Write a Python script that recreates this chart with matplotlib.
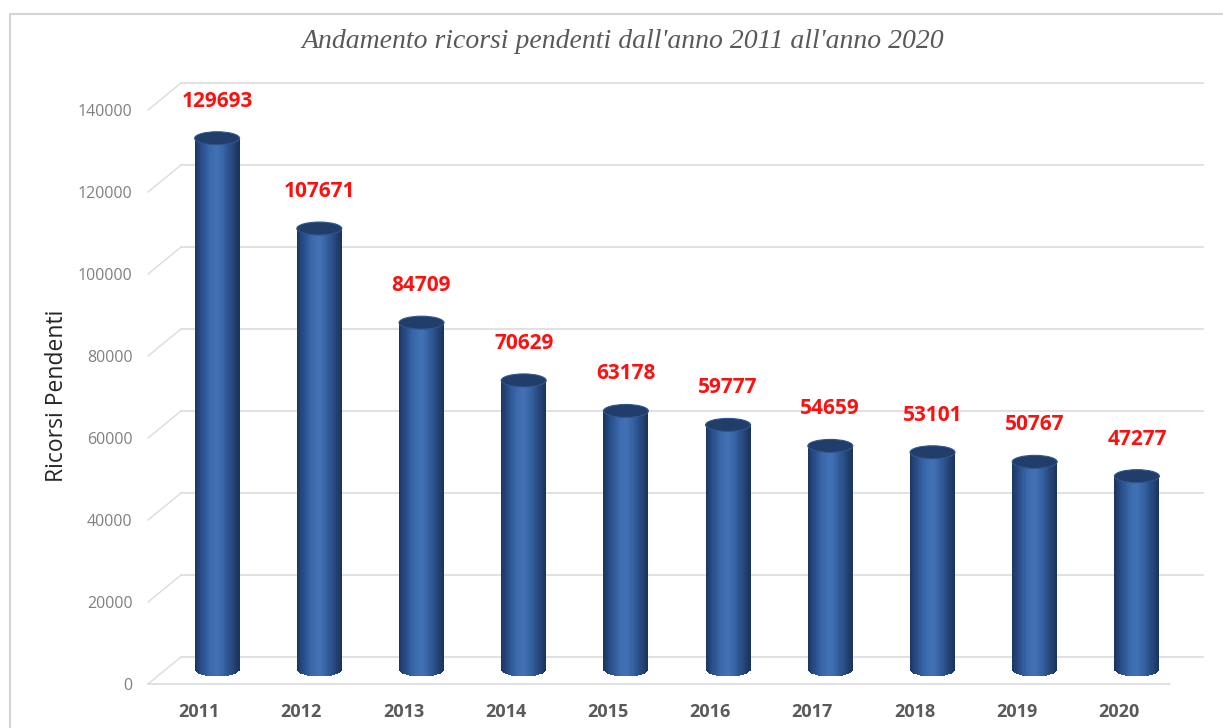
import numpy as np
import matplotlib
matplotlib.use("Agg")
import matplotlib.pyplot as plt
from matplotlib.patches import Ellipse, Rectangle
from matplotlib.transforms import ScaledTranslation
from matplotlib.colors import LinearSegmentedColormap

# dati
anni = ["2011", "2012", "2013", "2014", "2015", "2016", "2017", "2018", "2019", "2020"]
ricorsi = [129693, 107671, 84709, 70629, 63178, 59777, 54659, 53101, 50767, 47277]
yticks = [0, 20000, 40000, 60000, 80000, 100000, 120000, 140000]

W, H, DPI = 1223, 728, 100
fig = plt.figure(figsize=(W / DPI, H / DPI), dpi=DPI)
fig.patch.set_facecolor("white")

# piano frontale: x 148..1170 px, y 684 (0) .. 110 (140000)
ax = fig.add_axes([148 / W, (H - 684) / H, 1022 / W, 574 / H])
ax.set_xlim(-0.5, len(anni) - 0.5)
ax.set_ylim(0, 140000)
for s in ax.spines.values():
    s.set_visible(False)
ax.set_facecolor("none")

px = 1.0 / DPI
back = ax.transData + ScaledTranslation(33 * px, 27 * px, fig.dpi_scale_trans)
mid = ax.transData + ScaledTranslation(18 * px, 14 * px, fig.dpi_scale_trans)

grid_col = "#dcdcdc"
x0, x1 = ax.get_xlim()
inv = ax.transData.inverted()
for v in yticks:
    # parete di fondo
    ax.plot([x0, x1], [v, v], color=grid_col, lw=1.2, transform=back, clip_on=False, zorder=1)
    # parete laterale
    q0 = inv.transform(ax.transData.transform((x0, v)))
    q1 = inv.transform(back.transform((x0, v)))
    ax.plot([q0[0], q1[0]], [q0[1], q1[1]], color=grid_col, lw=1.0, clip_on=False, zorder=1)
# bordo frontale del pavimento
ax.plot([x0, x1], [0, 0], color=grid_col, lw=1.2, clip_on=False, zorder=1)

# cilindri
x = np.arange(len(anni))
w = 0.44
n = 40
per_px = 140000 / 574.0
eh = 13 * per_px
cmap = LinearSegmentedColormap.from_list(
    "cil", ["#1b3560", "#2a508c", "#3a68aa", "#4272b6", "#3461a0", "#27487e", "#1a325a"])
for k in range(n):
    u = -1 + (2 * k + 1) / n
    bot = -eh / 2 * np.sqrt(1 - u ** 2)
    xs = x - w / 2 + (k + 0.5) * w / n
    ax.bar(xs, np.array(ricorsi) - bot, bottom=bot, width=w / n * 1.05,
           color=cmap((u + 1) / 2), lw=0, transform=mid, zorder=3, clip_on=False)
for xi, v in zip(x, ricorsi):
    ax.add_patch(Ellipse((xi, v), w, eh, transform=mid, facecolor="#213d6a",
                         edgecolor="#2f568f", lw=0.8, zorder=4, clip_on=False))
    ax.annotate(f"{v}", xy=(xi, v), xycoords=mid, xytext=(0, 37), textcoords="offset pixels",
                ha="center", va="center", color="#ff1010", fontsize=15,
                fontweight="bold", family="Open Sans", zorder=5)

ax.set_xticks(x)
ax.set_xticklabels(anni, fontsize=13, fontweight="bold", color="#5a5a5a", family="Open Sans")
ax.set_yticks(yticks)
ax.set_yticklabels([str(t) for t in yticks], fontsize=11.5, color="#808080", family="Open Sans")
ax.tick_params(axis="x", length=0, pad=14)
ax.tick_params(axis="y", length=0, pad=11)

fig.text(57 / W, 1 - 396 / H, "Ricorsi Pendenti", rotation=90, ha="center", va="center",
         fontsize=16.5, color="#262626", family="Open Sans")
fig.text(623 / W, 1 - 42 / H, "Andamento ricorsi pendenti dall'anno 2011 all'anno 2020",
         ha="center", va="center", fontsize=20, style="italic", color="#595959",
         family="Liberation Serif")

# cornice
fig.patches.append(Rectangle((10 / W, -0.05), 1.2, 1 - 14 / H + 0.05, transform=fig.transFigure,
                             fill=False, edgecolor="#d4d4d4", lw=1.5, zorder=0))

fig.savefig("out.png", dpi=DPI)
